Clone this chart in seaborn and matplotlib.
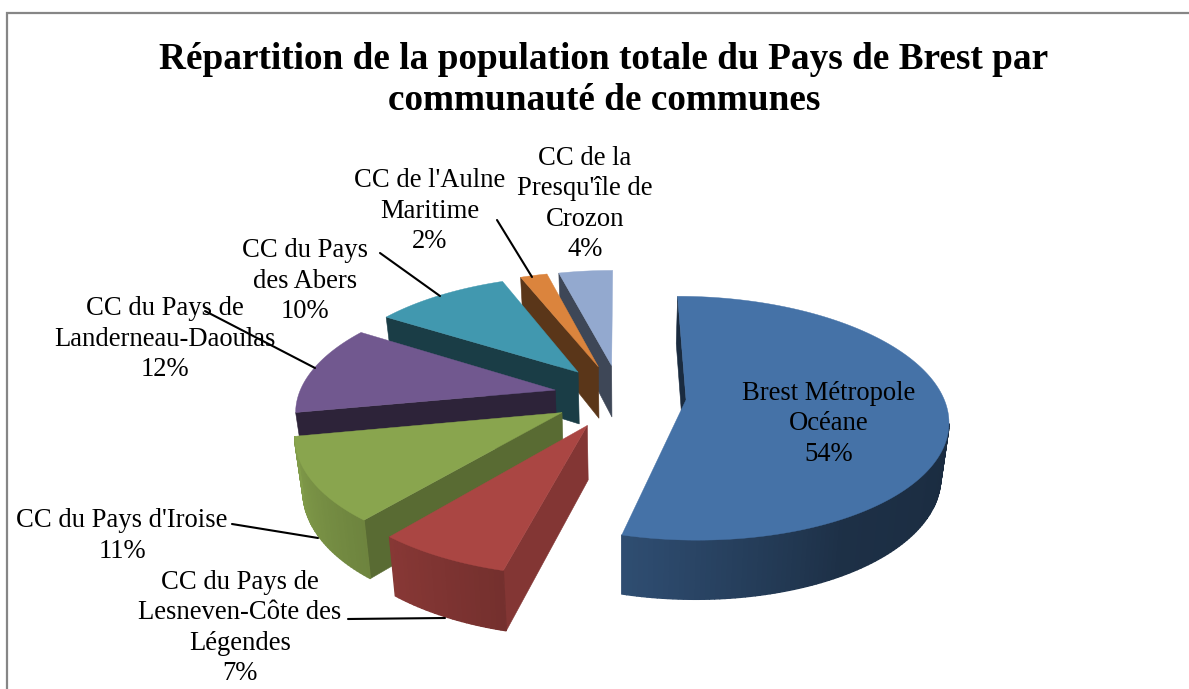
import matplotlib.pyplot as plt
import numpy as np
import seaborn as sns

sns.set_theme(style="white")
plt.rcParams["font.family"] = ["Liberation Serif", "DejaVu Serif"]

# Chart data
title = "Répartition de la population totale du Pays de Brest par\ncommunauté de communes"
names = [
    "Brest Métropole\nOcéane",
    "CC du Pays de\nLesneven-Côte des\nLégendes",
    "CC du Pays d'Iroise",
    "CC du Pays de\nLanderneau-Daoulas",
    "CC du Pays\ndes Abers",
    "CC de l'Aulne\nMaritime",
    "CC de la\nPresqu'île de\nCrozon",
]
shares = [54, 7, 11, 12, 10, 2, 4]

# Office style colours, top face and shade of the cut face
colors = sns.color_palette(
    ["#4572A7", "#AA4643", "#89A54E", "#71588F", "#4198AF", "#DB843D", "#93A9CF"]
)
cut_shade = [0.38, 0.77, 0.65, 0.40, 0.40, 0.41, 0.42]
explode = [0.25, 0.27, 0.27, 0.27, 0.27, 0.27, 0.27]
nudge = [-1, -3, 0, 0, -2, -4, -3]

# Label centres and leader lines, in pixels
label_pos = [(829, 424), (240, 628), (122, 536), (165, 339), (305, 281), (430, 211), (585, 204)]
leaders = [
    None,
    [(348, 619), (445, 618)],
    [(232, 524), (318, 538)],
    [(205, 311), (315, 368)],
    [(380, 253), (440, 296)],
    [(497, 220), (532, 277)],
    None,
]

# Fake 3D camera
CX, CY = 623, 396
A, B, K = 257, 118, 0.151


def project(u, v):
    w = 1 + K * v
    return CX + A * u / w, CY - B * v / w


def lower(x, y, v):
    # same point on the bottom of the pie
    return CX + (x - CX) * 0.975, y + 53 - 6 * v


def shade(color, f):
    return tuple(c * f for c in color)


def rim_shade(angle):
    return np.interp(angle, [0, 100, 150, 194, 220, 240, 259, 360],
                     [0.38, 0.38, 0.42, 0.68, 0.80, 0.88, 0.95, 0.95])


fig = plt.figure(figsize=(11.89, 6.89), dpi=100)
ax = fig.add_axes([0, 0, 1, 1])
ax.set_xlim(0, 1189)
ax.set_ylim(689, 0)
ax.axis("off")

# Chart frame
ax.plot([6.5, 6.5, 1189], [689, 13, 13], color="#868686", lw=1.6, solid_joinstyle="miter")

edges = np.cumsum([0] + shares) / sum(shares) * 360

# Back slices first
for i in [6, 5, 4, 3, 2, 1, 0]:
    start, end = edges[i], edges[i + 1]
    mid = np.radians((start + end) / 2)
    ex, ey = explode[i] * np.sin(mid), explode[i] * np.cos(mid)

    angles = np.linspace(start, end, max(int(end - start) + 1, 8))
    us = ex + np.sin(np.radians(angles))
    vs = ey + np.cos(np.radians(angles))
    rx, ry = project(us, vs)
    rx = rx + nudge[i]
    ax_x, ax_y = project(ex, ey)
    ax_x = ax_x + nudge[i]
    low_rx, low_ry = lower(rx, ry, vs)
    low_ax, low_ay = lower(ax_x, ax_y, ey)

    dark = shade(colors[i], cut_shade[i])
    # cut face going out from the centre, seen only when it runs to the left
    if rx[0] < ax_x:
        ax.fill([ax_x, rx[0], low_rx[0], low_ax], [ax_y, ry[0], low_ry[0], low_ay],
                color=dark, lw=0.4, zorder=2)
    # outer rim, small strips
    for j in range(len(angles) - 1):
        if rx[j + 1] < rx[j]:
            c = shade(colors[i], rim_shade((angles[j] + angles[j + 1]) / 2))
            ax.fill([rx[j], rx[j + 1], low_rx[j + 1], low_rx[j]],
                    [ry[j], ry[j + 1], low_ry[j + 1], low_ry[j]],
                    color=c, lw=1.0, zorder=2)
    # top face
    ax.fill(np.r_[ax_x, rx], np.r_[ax_y, ry], color=colors[i], lw=0.3, zorder=2)

for i, line in enumerate(leaders):
    if line:
        xs, ys = zip(*line)
        ax.plot(xs, ys, color="black", lw=1.5, zorder=3)

for i, (name, share) in enumerate(zip(names, shares)):
    ax.text(label_pos[i][0], label_pos[i][1], f"{name}\n{share}%", ha="center", va="center",
            fontsize=19.2, color="black", linespacing=1.29, zorder=4)

ax.text(604, 80, title, ha="center", va="center", fontsize=26.8, fontweight="bold",
        color="black", linespacing=1.19, zorder=4)

fig.savefig("out.png", dpi=100)
